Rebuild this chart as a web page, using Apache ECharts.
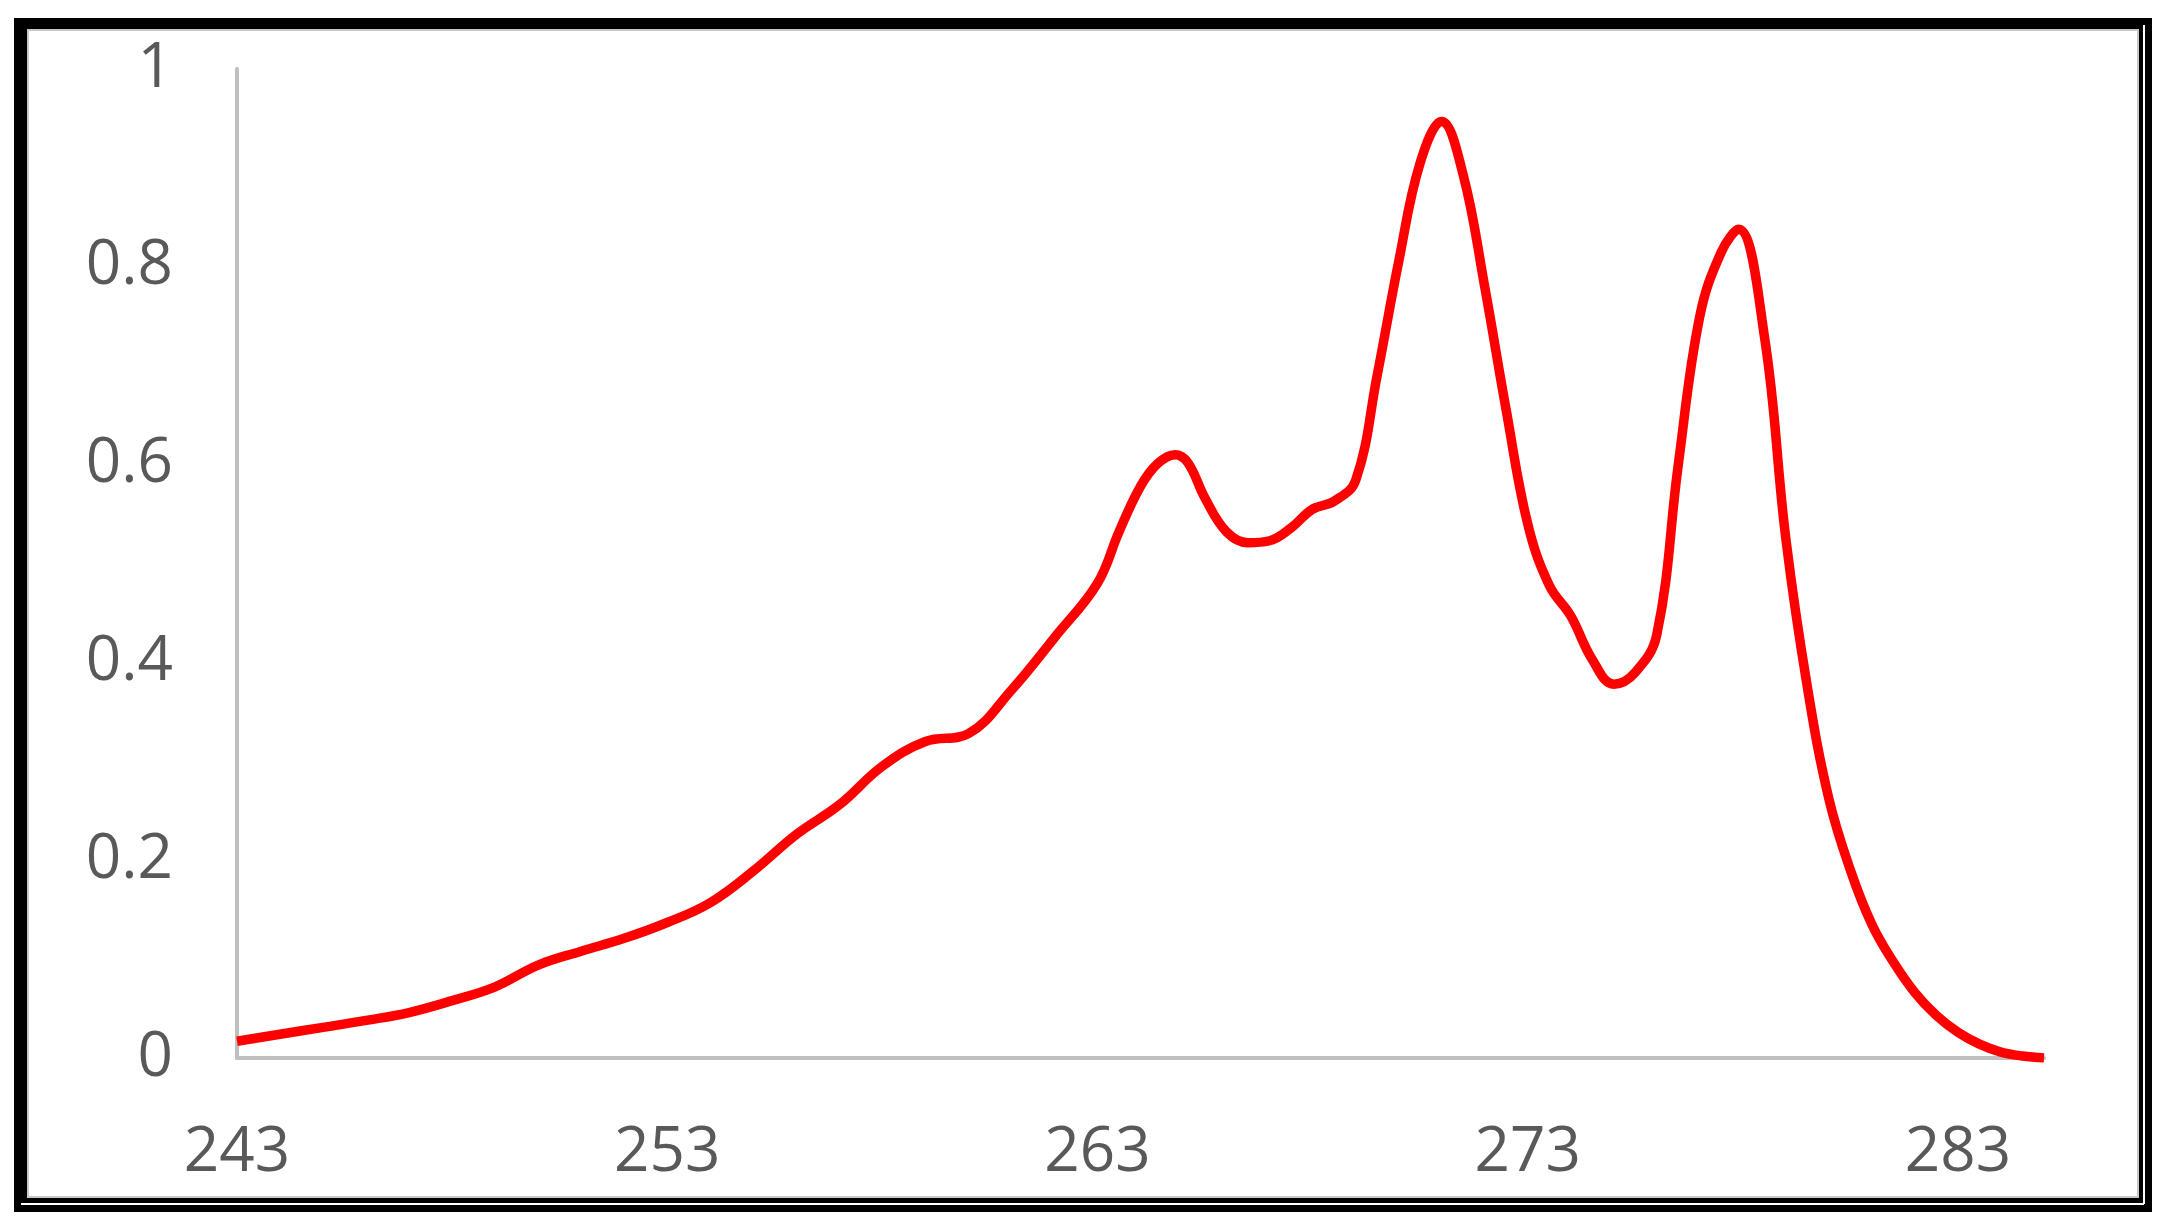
<!DOCTYPE html>
<html lang="en">
<head>
    <meta charset="UTF-8">
    <script src="https://cdn.jsdelivr.net/npm/echarts@6/dist/echarts.min.js"></script>
    <title>Spectrum</title>
    <style>
        html, body { height: 100%; margin: 0; padding: 0; background: #fff; }
        #chart { width: 2165px; height: 1227px; }
    </style>
</head>
<body>
    <div id="chart"></div>
    <script>
        // wavelength (x) and relative intensity (y)
        var wavelength = [
            243, 244, 245, 246, 247, 248, 249, 250, 251, 252,
            253, 254, 255, 256, 257, 258, 259, 260, 261, 262,
            263, 263.5, 264, 264.4, 264.8, 265.1, 265.5, 266, 266.5, 267, 267.5,
            268, 268.5, 269, 269.5, 270, 270.5, 271, 271.5, 272, 272.5,
            273, 273.5, 274, 274.5, 275, 275.5, 276, 276.5, 277, 277.5,
            277.9, 278.5, 279, 279.5, 280, 280.5, 281, 281.5, 282, 282.5,
            283, 283.5, 284, 284.5, 285
        ];
        var intensity = [
            0.017, 0.024, 0.031, 0.038, 0.046, 0.058, 0.072, 0.094, 0.108, 0.121,
            0.137, 0.157, 0.189, 0.226, 0.256, 0.295, 0.320, 0.328, 0.372, 0.425,
            0.480, 0.532, 0.578, 0.601, 0.610, 0.602, 0.566, 0.532, 0.521, 0.523, 0.536,
            0.555, 0.563, 0.584, 0.690, 0.805, 0.905, 0.947, 0.893, 0.780, 0.655,
            0.540, 0.478, 0.447, 0.403, 0.378, 0.390, 0.428, 0.600, 0.750, 0.815,
            0.838, 0.730, 0.525, 0.375, 0.262, 0.190, 0.135, 0.097, 0.066, 0.043,
            0.026, 0.014, 0.006, 0.002, 0
        ];
        var xTicks = [243, 253, 263, 273, 283];
        var yMin = 0, yMax = 1, yStep = 0.2;

        var points = wavelength.map(function (w, i) { return [w, intensity[i]]; });

        var labelFont = {
            color: '#595959',
            fontSize: 62,
            fontFamily: 'Open Sans'
        };

        var myChart = echarts.init(document.getElementById('chart'));
        var option = {
            backgroundColor: '#ffffff',
            animation: false,
            grid: { left: 237, right: 121, top: 69, bottom: 169 },
            xAxis: {
                type: 'value',
                min: 243,
                max: 285,
                splitLine: { show: false },
                axisTick: { show: false },
                axisLine: { lineStyle: { color: '#bfbfbf', width: 4 } },
                axisLabel: Object.assign({ margin: 64, customValues: xTicks }, labelFont)
            },
            yAxis: {
                type: 'value',
                min: yMin,
                max: yMax,
                interval: yStep,
                splitLine: { show: false },
                axisTick: { show: false },
                axisLine: { show: true, lineStyle: { color: '#bfbfbf', width: 4 } },
                axisLabel: Object.assign({ margin: 64, padding: [8, 0, 0, 0] }, labelFont)
            },
            // picture frame
            graphic: [
                { type: 'rect', z: -10, shape: { x: 14, y: 18, width: 2138, height: 1194 }, style: { fill: '#000' } },
                { type: 'rect', z: -9, shape: { x: 28, y: 30, width: 2110, height: 1167 }, style: { fill: '#fff', stroke: '#c8c8c8', lineWidth: 2 } },
                { type: 'line', z: -8, shape: { x1: 21, y1: 1204, x2: 2144, y2: 1204 }, style: { stroke: '#fff', lineWidth: 2 } },
                { type: 'line', z: -8, shape: { x1: 2144, y1: 25, x2: 2144, y2: 1204 }, style: { stroke: '#fff', lineWidth: 2 } }
            ],
            series: [
                {
                    type: 'line',
                    data: points,
                    smooth: 0.4,
                    showSymbol: false,
                    lineStyle: { color: '#ff0000', width: 9.5 },
                    z: 5
                }
            ]
        };
        myChart.setOption(option);
    </script>
</body>
</html>
